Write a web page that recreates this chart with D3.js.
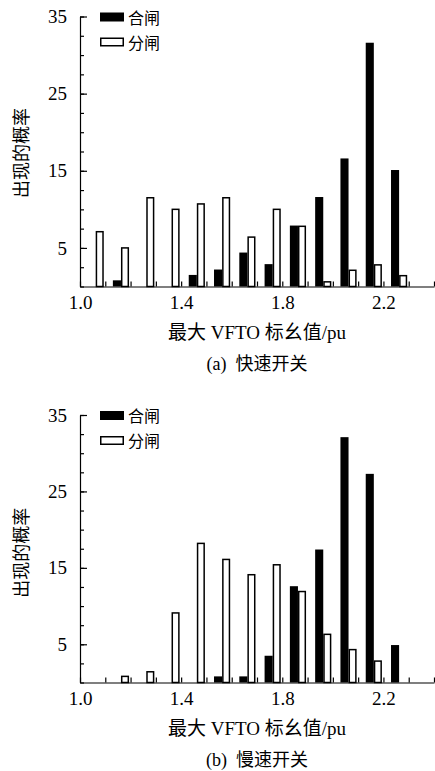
<!DOCTYPE html>
<html>
<head>
<meta charset="utf-8">
<script src="https://cdn.jsdelivr.net/npm/d3@7"></script>
<style>
  body { margin: 0; background: #fff; }
  svg { display: block; }
</style>
</head>
<body>
<div id="chart"></div>
<script>
// bin starts (VFTO pu), 0.1 wide
const bins = [1.0, 1.1, 1.2, 1.3, 1.4, 1.5, 1.6, 1.7, 1.8, 1.9, 2.0, 2.1, 2.2, 2.3];

// (a) fast switch
const fastClose = [0, 0.8, 0, 0, 1.5, 2.2, 4.4, 2.9, 7.9, 11.6, 16.6, 31.6, 15.1, 0];
const fastOpen  = [7.2, 5.1, 11.6, 10.1, 10.8, 11.6, 6.5, 10.1, 7.9, 0.7, 2.2, 2.9, 1.5, 0];

// (b) slow switch
const slowClose = [0, 0, 0, 0, 0, 0.8, 0.8, 3.5, 12.6, 17.4, 32.1, 27.3, 4.9, 0];
const slowOpen  = [0, 0.9, 1.5, 9.2, 18.3, 16.2, 14.2, 15.5, 12.0, 6.4, 4.4, 2.9, 0, 0];

const yMajor = [5, 15, 25, 35];
const xMajor = [1.0, 1.4, 1.8, 2.2];
const seriesNames = ["合闸", "分闸"];

const W = 435, H = 771;
const font = "'Liberation Serif', 'Noto Sans CJK SC', serif";

const svg = d3.select("#chart").append("svg")
  .attr("width", W)
  .attr("height", H)
  .style("font-family", font);

function panel(top, closeVals, openVals, caption, yTop, labelShift) {
  const marginLeft = 80;
  const x = d3.scaleLinear().domain([1.0, 2.4]).range([marginLeft, 434]);
  const y = d3.scaleLinear().domain([0, 35]).range([top + 270.5, yTop]);

  const g = svg.append("g");

  // bars
  const rows = bins.map((b, i) => ({ b, close: closeVals[i], open: openVals[i] }));
  g.selectAll(".close")
    .data(rows.filter(d => d.close > 0))
    .join("rect")
    .attr("x", d => x(d.b + 0.03))
    .attr("width", d => x(d.b + 0.062) - x(d.b + 0.03))
    .attr("y", d => y(d.close))
    .attr("height", d => y(0) - y(d.close))
    .attr("fill", "#000");

  g.selectAll(".open")
    .data(rows.filter(d => d.open > 0))
    .join("rect")
    .attr("x", d => x(d.b + 0.062) + 0.75)
    .attr("width", d => x(d.b + 0.094) - x(d.b + 0.062) - 1.5)
    .attr("y", d => y(d.open) + 0.75)
    .attr("height", d => Math.max(0, y(0) - y(d.open) - 0.75))
    .attr("fill", "#fff")
    .attr("stroke", "#000")
    .attr("stroke-width", 1.5);

  // y axis: minor ticks every 2.5, major ticks labelled
  g.append("g")
    .attr("transform", `translate(${marginLeft},0)`)
    .call(d3.axisLeft(y).tickValues(d3.range(0, 35.01, 2.5)).tickSize(-4).tickFormat(""))
    .call(a => a.select(".domain").remove())
    .call(a => a.selectAll("line").attr("stroke", "#000").attr("stroke-width", 1.2));

  g.append("g")
    .attr("transform", `translate(${marginLeft},0)`)
    .call(d3.axisLeft(y).tickValues(yMajor).tickSizeInner(-7).tickSizeOuter(0).tickPadding(13))
    .call(a => a.select(".domain").attr("stroke", "#000").attr("stroke-width", 1.2))
    .call(a => a.selectAll("line").attr("stroke", "#000").attr("stroke-width", 1.2))
    .call(a => a.selectAll("text").attr("font-size", 19).attr("fill", "#000").attr("font-family", font));

  // x axis
  g.append("g")
    .attr("transform", `translate(0,${y(0)})`)
    .call(d3.axisBottom(x).tickValues(d3.range(1.0, 2.401, 0.1)).tickSize(-5).tickFormat(""))
    .call(a => a.select(".domain").remove())
    .call(a => a.selectAll("line").attr("stroke", "#000").attr("stroke-width", 1.2));

  g.append("g")
    .attr("transform", `translate(0,${y(0)})`)
    .call(d3.axisBottom(x).tickValues(xMajor).tickSize(0).tickPadding(9).tickFormat(d3.format(".1f")))
    .call(a => a.select(".domain").attr("stroke", "#000").attr("stroke-width", 1.2))
    .call(a => a.selectAll("text").attr("font-size", 19).attr("fill", "#000").attr("font-family", font));

  // y label
  g.append("text")
    .attr("transform", `translate(28,${(y(0) + y(35)) / 2 + labelShift}) rotate(-90)`)
    .attr("text-anchor", "middle")
    .attr("font-size", 18)
    .text("出现的概率");

  // x label and caption
  g.append("text")
    .attr("x", 257)
    .attr("y", y(0) + 52)
    .attr("text-anchor", "middle")
    .attr("font-size", 19)
    .text("最大 VFTO 标幺值/pu");

  g.append("text")
    .attr("x", 257)
    .attr("y", y(0) + 83)
    .attr("text-anchor", "middle")
    .attr("font-size", 18)
    .style("white-space", "pre")
    .text(caption);

  // legend
  const leg = g.append("g").attr("transform", `translate(100,${yTop - 4})`);
  seriesNames.forEach((name, i) => {
    const row = leg.append("g").attr("transform", `translate(0,${i * 25})`);
    row.append("rect")
      .attr("x", i ? 0.75 : 0)
      .attr("y", i ? 0.75 : 0)
      .attr("width", i ? 22.5 : 24)
      .attr("height", i ? 7.5 : 9)
      .attr("fill", i ? "#fff" : "#000")
      .attr("stroke", i ? "#000" : "none")
      .attr("stroke-width", 1.5);
    row.append("text")
      .attr("x", 28)
      .attr("y", 11)
      .attr("font-size", 16)
      .text(name);
  });
}

panel(16, fastClose, fastOpen, "(a)  快速开关", 16.5, 1.5);
panel(412, slowClose, slowOpen, "(b)  慢速开关", 415, 4);
</script>
</body>
</html>
